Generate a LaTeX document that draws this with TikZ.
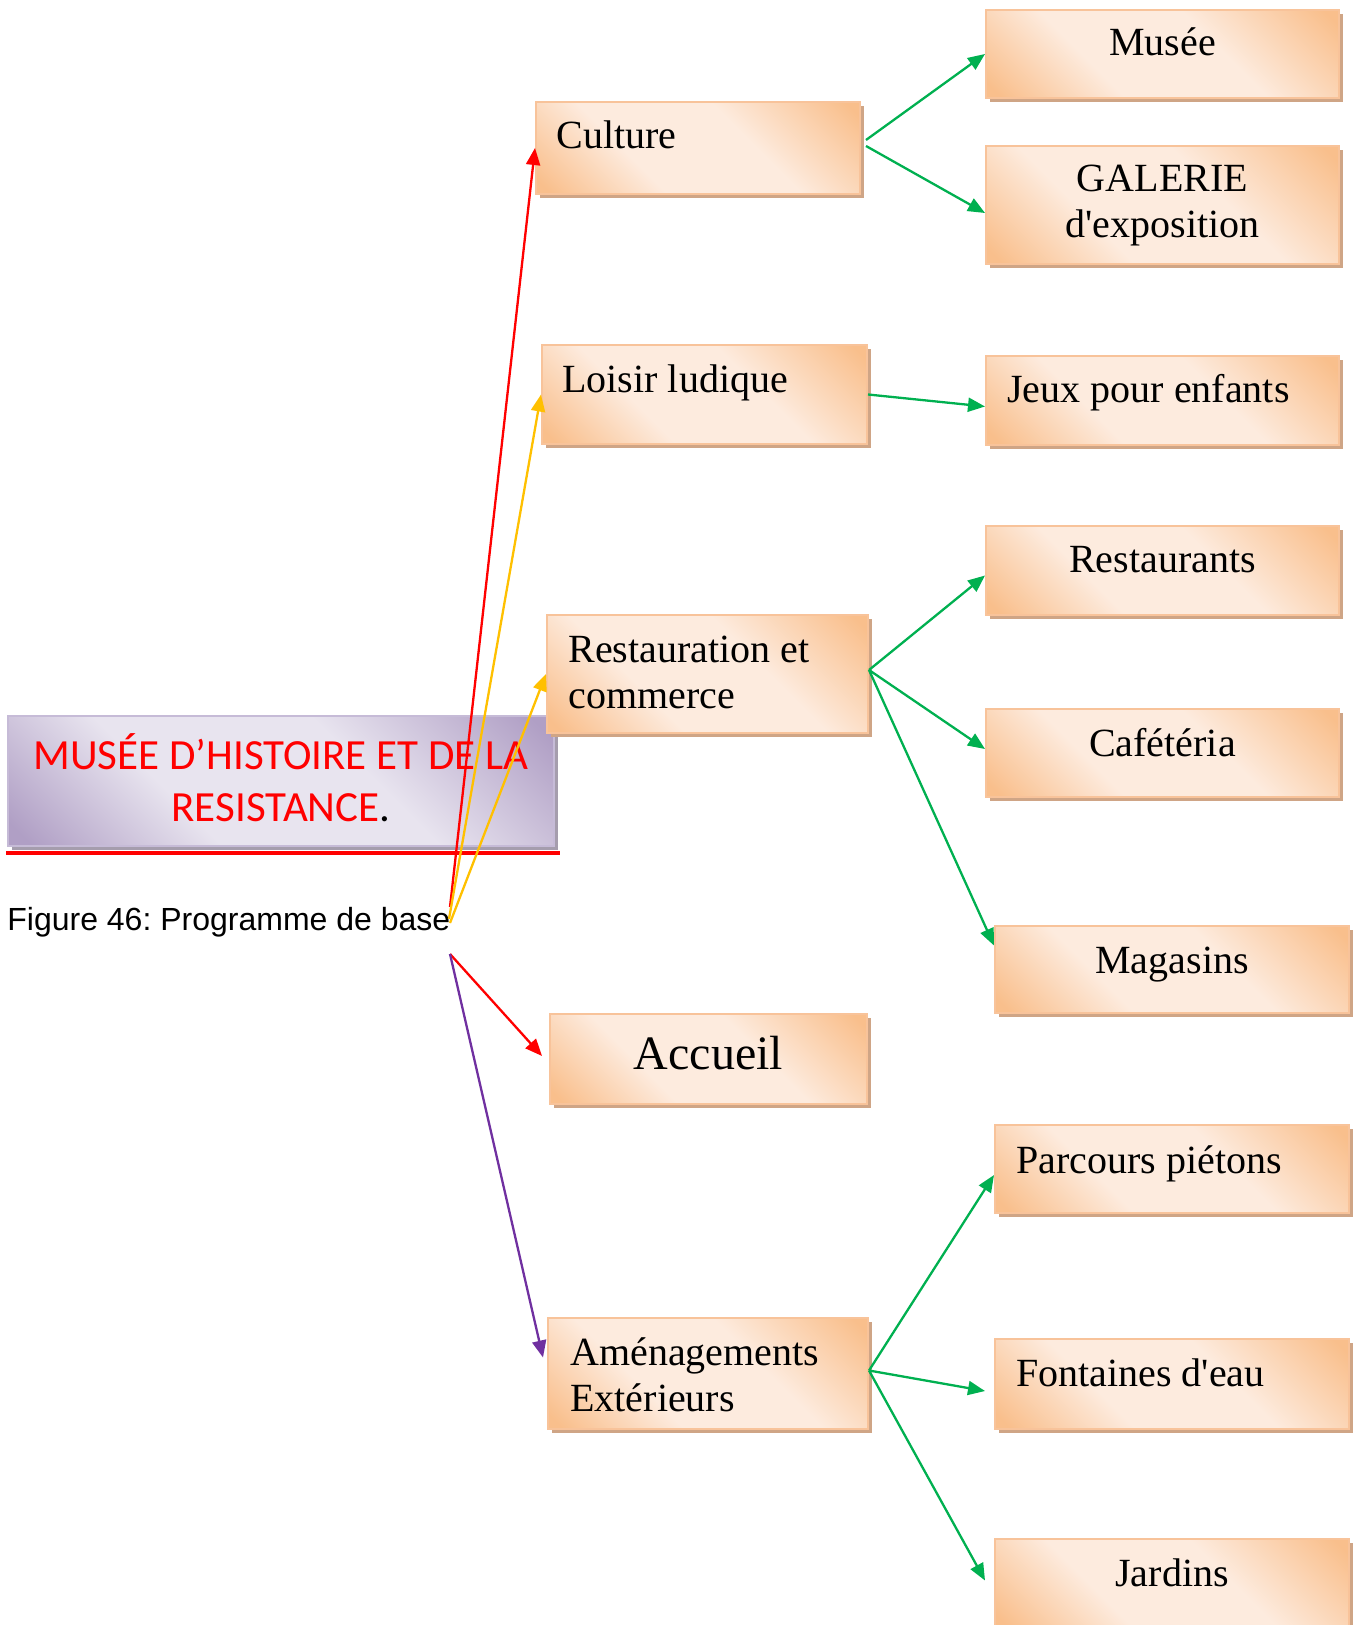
\documentclass[tikz,border=0pt]{standalone}
\usepackage{fontspec}
\setmainfont{Liberation Serif}
\newfontfamily\capfont{Liberation Sans}
\newfontfamily\headfont{Carlito}
\usetikzlibrary{arrows.meta,calc,shadows}
\frenchspacing

\definecolor{boxorange}{HTML}{F9BF8C}
\definecolor{boxlight}{HTML}{FDEBDE}
\definecolor{boxedge}{HTML}{F8C39A}
\definecolor{boxshadow}{HTML}{CFA586}
\definecolor{headdark}{HTML}{B09FC5}
\definecolor{headlight}{HTML}{E8E4EF}
\definecolor{headedge}{HTML}{C6BBD7}
\definecolor{headshadow}{HTML}{A59DAD}
\definecolor{arrgreen}{HTML}{00B050}
\definecolor{arrred}{HTML}{FF0000}
\definecolor{arryellow}{HTML}{FFC000}
\definecolor{arrpurple}{HTML}{7030A0}

% broad light band with coloured corners
\pgfdeclareverticalshading{cardfill}{100bp}{color(0bp)=(boxorange); color(17bp)=(boxorange);
  color(37bp)=(boxlight); color(60bp)=(boxlight); color(83bp)=(boxorange); color(100bp)=(boxorange)}
\pgfdeclareverticalshading{headfill}{100bp}{color(0bp)=(headdark); color(17bp)=(headdark);
  color(37bp)=(headlight); color(60bp)=(headlight); color(83bp)=(headdark); color(100bp)=(headdark)}

\tikzset{
  card/.style 2 args={rectangle, inner sep=0pt,
    minimum width=#1*0.5pt, minimum height=#2*0.5pt,
    draw=boxedge, line width=1pt,
    general shadow={fill=boxshadow, shadow xshift=2pt, shadow yshift=-2pt},
    shade, shading=cardfill, shading angle=-45},
  headcard/.style 2 args={rectangle, inner sep=0pt,
    minimum width=#1*0.5pt, minimum height=#2*0.5pt,
    draw=headedge, line width=1pt,
    general shadow={fill=headshadow, shadow xshift=2pt, shadow yshift=-2pt},
    shade, shading=headfill, shading angle=-45},
  lbl/.style={inner sep=0pt, font=\fontsize{20}{23}\selectfont},
  bigLbl/.style={inner sep=0pt, font=\fontsize{24}{28}\selectfont},
  link/.style={line width=1.15pt, -{Triangle[length=8.5pt,width=7pt]}},
}

\begin{document}
\begin{tikzpicture}[x=0.5pt, y=-0.5pt]
  \useasboundingbox (0,0) rectangle (1356,1625);
  \clip (0,0) rectangle (1356,1625);

  % heading box and caption
  \node[headcard={546}{130}] (head) at (281,781) {};
  \node[inner sep=0pt, anchor=base, text=arrred,
        font=\headfont\fontsize{21.5}{26}\selectfont] (headtxt) at (281,769)
    {\begin{tabular}[t]{@{}c@{}}MUSÉE D’HISTOIRE ET DE LA\\RESISTANCE\textcolor{black}{.}\end{tabular}};
  \draw[arrred, line width=2pt] (6,853) coordinate (ruleL) -- (560,853) coordinate (ruleR);
  \node[inner sep=0pt, anchor=base west, font=\capfont\fontsize{16}{19}\selectfont]
    (cap) at (7,930) {Figure 46: Programme de base};

  % first level
  \node[card={324}{92}]  (cult) at (698,148) {};
  \node[card={325}{99}]  (lois) at (704.5,394.5) {};
  \node[card={321}{118}] (rest) at (707.5,674) {};
  \node[card={317}{90}]  (accu) at (708.5,1059) {};
  \node[card={320}{111}] (amen) at (708,1373.5) {};

  % second level
  \node[card={353}{88}]  (muse) at (1162.5,54) {};
  \node[card={353}{118}] (gale) at (1162.5,205) {};
  \node[card={353}{89}]  (jeux) at (1162.5,400.5) {};
  \node[card={353}{89}]  (rsts) at (1162.5,570.5) {};
  \node[card={353}{88}]  (cafe) at (1162.5,753) {};
  \node[card={354}{87}]  (maga) at (1172,969.5) {};
  \node[card={354}{88}]  (parc) at (1172,1169) {};
  \node[card={354}{90}]  (fon)  at (1172,1384) {};
  \node[card={354}{91}]  (jard) at (1172,1584.5) {};

  % labels, left aligned
  \node[lbl, anchor=base west] (tcult) at ($(cult.north west)+(21,48)$) {Culture};
  \node[lbl, anchor=base west] (tlois) at ($(lois.north west)+(21,49)$) {Loisir ludique};
  \node[lbl, anchor=base west] (trest) at ($(rest.north west)+(22,48)$)
    {\begin{tabular}[t]{@{}l@{}}Restauration et\\commerce\end{tabular}};
  \node[lbl, anchor=base west] (tamen) at ($(amen.north west)+(23,48)$)
    {\begin{tabular}[t]{@{}l@{}}Aménagements\\Extérieurs\end{tabular}};
  \node[lbl, anchor=base west] (tjeux) at ($(jeux.north west)+(22,48)$) {Jeux pour enfants};
  \node[lbl, anchor=base west] (tparc) at ($(parc.north west)+(22,49)$) {Parcours piétons};
  \node[lbl, anchor=base west] (tfon)  at ($(fon.north west)+(22,48)$) {Fontaines d\textquotesingle eau};

  % labels, centred
  \node[lbl, anchor=base] (tmuse) at ($(muse.north)+(0,47)$) {Musée};
  \node[lbl, anchor=base] (tgale) at ($(gale.north)+(0,47)$)
    {\begin{tabular}[t]{@{}c@{}}GALERIE\\d\textquotesingle exposition\end{tabular}};
  \node[lbl, anchor=base] (trsts) at ($(rsts.north)+(0,47)$) {Restaurants};
  \node[lbl, anchor=base] (tcafe) at ($(cafe.north)+(0,48)$) {Cafétéria};
  \node[lbl, anchor=base] (tmaga) at ($(maga.north)+(0,48)$) {Magasins};
  \node[bigLbl, anchor=base] (taccu) at ($(accu.north)+(0,56)$) {Accueil};
  \node[lbl, anchor=base] (tjard) at ($(jard.north)+(0,48)$) {Jardins};

  % sources of the coloured links, at the end of the caption
  \coordinate (srcA) at (450,907);
  \coordinate (srcB) at (449,919);
  \coordinate (srcD) at (450,923);
  \coordinate (srcC) at (450,954);

  % links from the caption
  \draw[link, arrred]    (srcA) -- (cult.west);
  \draw[link, arryellow] (srcB) -- (lois.west);
  \draw[link, arryellow] (srcD) -- (rest.west);
  \draw[link, arrred]    (srcC) -- ($(accu.west)+(-7,-3)$);
  \draw[link, arrpurple] (srcC) -- ($(amen.west)+(-4,-16)$);

  % links to the second level
  \draw[link, arrgreen] ($(cult.east)+(5,-8)$) -- (muse.west);
  \draw[link, arrgreen] ($(cult.east)+(5,-2)$) -- ($(gale.west)+(0,8)$);
  \draw[link, arrgreen] (lois.east) -- ($(jeux.west)+(0,6)$);
  \draw[link, arrgreen] ($(rest.east)+(0,-4)$) -- ($(rsts.west)+(0,5)$);
  \draw[link, arrgreen] ($(rest.east)+(0,-4)$) -- ($(cafe.west)+(0,-4)$);
  \draw[link, arrgreen] ($(rest.east)+(0,-4)$) -- ($(maga.west)+(0,-24)$);
  \draw[link, arrgreen] ($(amen.east)+(0,-3)$) -- ($(parc.west)+(0,6)$);
  \draw[link, arrgreen] ($(amen.east)+(0,-3)$) -- ($(fon.west)+(-9,7)$);
  \draw[link, arrgreen] ($(amen.east)+(0,-3)$) -- ($(jard.west)+(-9,-4)$);
\end{tikzpicture}
\end{document}
